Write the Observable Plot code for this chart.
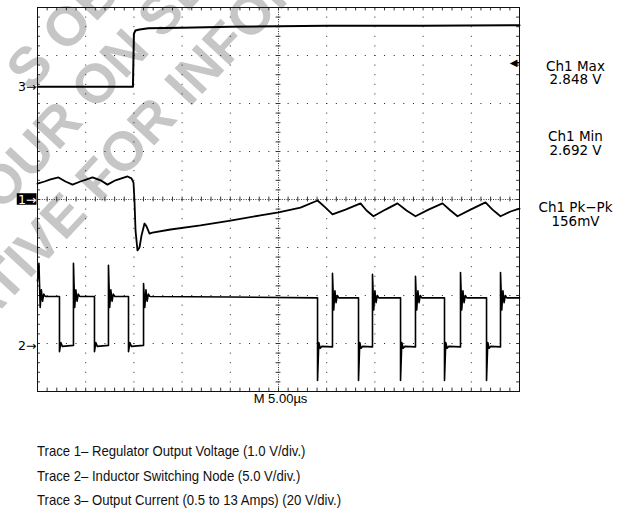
<!DOCTYPE html>
<html><head><meta charset="utf-8">
<script src="https://cdn.jsdelivr.net/npm/d3@7"></script>
<script src="https://cdn.jsdelivr.net/npm/@observablehq/plot@0.6"></script>
<style>
html,body{margin:0;padding:0;background:#fff;}
body{width:631px;height:508px;overflow:hidden;}
#caption{padding:29px 0 0 37px;font-family:"Liberation Sans",Arial,sans-serif;font-size:14.5px;line-height:24.5px;color:#111;}
#caption div{white-space:nowrap;transform:scaleX(0.905);transform-origin:0 50%;}
</style></head><body>
<div id="chart"></div>
<div id="caption"></div>
<script>
// ---- data (time in µs, vertical position in screen divisions; centre = 0) ----
const trace1Time = [0.00,0.73,1.35,2.18,2.90,3.63,4.46,5.71,6.54,7.26,8.09,9.34,9.75,9.96,10.06,10.17,10.37,10.58,10.79,11.10,11.31,11.62,11.93,13.80,16.91,20.02,23.13,25.00,27.28,29.05,29.88,30.60,31.95,33.51,34.13,34.85,36.10,37.34,38.28,39.21,40.56,42.01,42.84,43.57,44.92,46.47,47.20,48.03,49.07,50.00];
const trace1Div  = [0.33,0.375,0.42,0.46,0.375,0.31,0.375,0.46,0.40,0.31,0.40,0.48,0.44,0.35,-0.02,-0.65,-1.06,-1.00,-0.75,-0.50,-0.56,-0.71,-0.69,-0.625,-0.54,-0.44,-0.33,-0.27,-0.17,-0.02,-0.17,-0.31,-0.21,-0.08,-0.23,-0.35,-0.21,-0.08,-0.23,-0.35,-0.21,-0.08,-0.23,-0.35,-0.21,-0.06,-0.21,-0.35,-0.25,-0.19];

const trace2Time = [0.00,0.15,0.28,0.40,0.52,0.65,0.80,2.28,2.28,2.42,2.58,3.73,3.73,3.86,3.98,4.10,4.23,4.38,5.91,5.91,6.05,6.21,7.36,7.36,7.49,7.61,7.73,7.86,8.01,9.44,9.44,9.58,9.74,11.00,11.00,11.13,11.25,11.37,11.50,11.65,20.00,29.05,29.05,29.18,29.32,29.48,30.60,30.60,30.73,30.85,30.97,31.10,31.25,33.30,33.30,33.43,33.57,33.73,34.75,34.75,34.88,35.00,35.12,35.25,35.40,37.66,37.66,37.79,37.93,38.09,39.21,39.21,39.34,39.46,39.58,39.71,39.86,42.22,42.22,42.35,42.49,42.65,43.88,43.88,44.01,44.13,44.25,44.38,44.53,46.58,46.58,46.71,46.85,47.01,48.03,48.03,48.16,48.28,48.40,48.53,48.68,50.00];
const trace2Div  = [-1.70,-1.33,-2.25,-1.88,-2.12,-1.97,-2.02,-2.02,-3.17,-2.98,-3.06,-3.04,-1.33,-2.25,-1.88,-2.12,-1.97,-2.02,-2.02,-3.17,-2.98,-3.06,-3.04,-1.37,-2.25,-1.88,-2.12,-1.97,-2.02,-2.02,-3.17,-2.98,-3.06,-3.04,-1.75,-2.25,-1.88,-2.12,-1.97,-2.02,-2.03,-2.05,-3.77,-2.98,-3.10,-3.06,-3.07,-1.54,-2.30,-1.90,-2.15,-2.00,-2.05,-2.05,-3.77,-2.98,-3.10,-3.06,-3.07,-1.56,-2.30,-1.90,-2.15,-2.00,-2.05,-2.05,-3.77,-2.98,-3.10,-3.06,-3.07,-1.60,-2.30,-1.90,-2.15,-2.00,-2.05,-2.05,-3.77,-2.98,-3.10,-3.06,-3.07,-1.52,-2.30,-1.90,-2.15,-2.00,-2.05,-2.05,-3.77,-2.98,-3.10,-3.06,-3.07,-1.52,-2.30,-1.90,-2.15,-2.00,-2.05,-2.05];

const trace3Time = [0,9.90,10.00,10.15,10.60,11.50,15.00,20.00,30.00,40.00,50.00];
const trace3Div  = [2.35,2.35,3.45,3.52,3.54,3.57,3.58,3.60,3.62,3.62,3.63];

const markerLabels = ["3→","1→","2→"];
const markerLevels = [2.35, 0, -3.05];
const statTitles = ["Ch1 Max","Ch1 Min","Ch1 Pk\u2212Pk"];
const statValues = ["2.848 V","2.692 V","156mV"];
const statTitleY = [2.667, 1.229, -0.25];
const statValueY = [2.396, 0.9375, -0.542];
const ch1MaxLevel = [2.85];
const timebaseLabel = ["M 5.00µs"];
const captionLines = [
  "Trace 1– Regulator Output Voltage (1.0 V/div.)",
  "Trace 2– Inductor Switching Node (5.0 V/div.)",
  "Trace 3– Output Current (0.5 to 13 Amps) (20 V/div.)"
];
const watermark = ["S OBSOLETE","YOUR ON SEMICONDUCTOR","REPRESENTATIVE FOR INFORMATION"];

// ---- graticule values ----
const xMajor = d3.range(0, 51, 5);   // 10 divisions of 5 µs
const yMajor = d3.range(-4, 5, 1);   // 8 divisions
const xMinor = d3.range(0, 50.001, 1);
const yMinor = d3.range(-4, 4.001, 0.2);

const zip = (t, v) => t.map((d, i) => ({t: d, v: v[i]}));
const trace1 = zip(trace1Time, trace1Div);
const trace2 = zip(trace2Time, trace2Div);
const trace3 = zip(trace3Time, trace3Div);
const markers = markerLabels.map((l, i) => ({label: l, y: markerLevels[i]}));
const titles = statTitles.map((l, i) => ({label: l, y: statTitleY[i]}));
const values = statValues.map((l, i) => ({label: l, y: statValueY[i]}));

const wmStyle = {text: d => d, frameAnchor: "top-left", rotate: -47, textAnchor: "start", lineAnchor: "bottom",
  fontSize: 55, fontWeight: "bold", fill: "#c6c6c6", fontFamily: "Liberation Sans, Arial, sans-serif"};
const statStyle = {x: 50, y: "y", text: "label", dx: 56, textAnchor: "middle", lineAnchor: "bottom", fontSize: 13.5,
  fontFamily: "DejaVu Sans, sans-serif", fill: "#000"};

const chart = Plot.plot({
  width: 631, height: 410,
  marginLeft: 37, marginTop: 7, marginRight: 112, marginBottom: 19,
  x: {domain: [0, 50], axis: null},
  y: {domain: [-4, 4], axis: null},
  style: {background: "transparent", overflow: "hidden"},
  marks: [
    Plot.text([watermark[0]], {...wmStyle, dx: -7, dy: 85}),
    Plot.text([watermark[1]], {...wmStyle, dx: -61.2, dy: 231.7}),
    Plot.text([watermark[2]], {...wmStyle, dx: -282.4, dy: 566.1}),
    Plot.ruleX(xMajor.filter(d => d !== 25 && d !== 0 && d !== 50), {stroke: "#222", strokeDasharray: "1,8.6"}),
    Plot.ruleY(yMajor.filter(d => d !== 0 && d !== 4 && d !== -4), {stroke: "#222", strokeDasharray: "1,8.64"}),
    Plot.ruleX([25], {stroke: "#333", strokeDasharray: "1,1.4"}),
    Plot.ruleY([0], {stroke: "#333", strokeDasharray: "1,1.4"}),
    Plot.ruleY(yMinor, {y: d => d, x1: 24.75, x2: 25.25, stroke: "#333"}),
    Plot.ruleX(xMinor, {x: d => d, y1: -0.05, y2: 0.05, stroke: "#333"}),
    Plot.ruleY(yMinor, {y: d => d, x1: 0, x2: 0.3, stroke: "#333"}),
    Plot.ruleY(yMinor, {y: d => d, x1: 49.7, x2: 50, stroke: "#333"}),
    Plot.ruleX(xMinor, {x: d => d, y1: 3.93, y2: 4, stroke: "#333"}),
    Plot.ruleX(xMinor, {x: d => d, y1: -4, y2: -3.93, stroke: "#333"}),
    Plot.frame({stroke: "#111"}),
    Plot.line(trace3, {x: "t", y: "v", stroke: "#000", strokeWidth: 2}),
    Plot.line(trace1, {x: "t", y: "v", stroke: "#000", strokeWidth: 1.8}),
    Plot.line(trace2, {x: "t", y: "v", stroke: "#000", strokeWidth: 1.6}),
    Plot.rect(markers.filter(d => d.label === "1→"), {x1: -2.1, x2: -0.05, y1: d => d.y - 0.12, y2: d => d.y + 0.12, fill: "#000"}),
    Plot.text(markers, {x: 0, y: "y", text: "label", dx: -1, textAnchor: "end", fontSize: 12.5,
      fontFamily: "DejaVu Sans, sans-serif", fill: d => d.label === "1→" ? "#fff" : "#000"}),
    Plot.text(["◀"], {x: 50, y: ch1MaxLevel, text: d => d, dx: -6, fontSize: 10, fontFamily: "DejaVu Sans, sans-serif", fill: "#000"}),
    Plot.ruleY(ch1MaxLevel, {x1: 49.5, x2: 50, stroke: "#000", strokeWidth: 1.5}),
    Plot.text(titles, statStyle),
    Plot.text(values, statStyle),
    Plot.text(timebaseLabel, {x: 25, y: -4, text: d => d, dx: 2, dy: 7, fontSize: 13,
      fontFamily: "Liberation Sans, Arial, sans-serif", fill: "#000"})
  ]
});
document.getElementById("chart").appendChild(chart);
const cap = document.getElementById("caption");
captionLines.forEach(l => { const d = document.createElement("div"); d.textContent = l; cap.appendChild(d); });
</script></body></html>
